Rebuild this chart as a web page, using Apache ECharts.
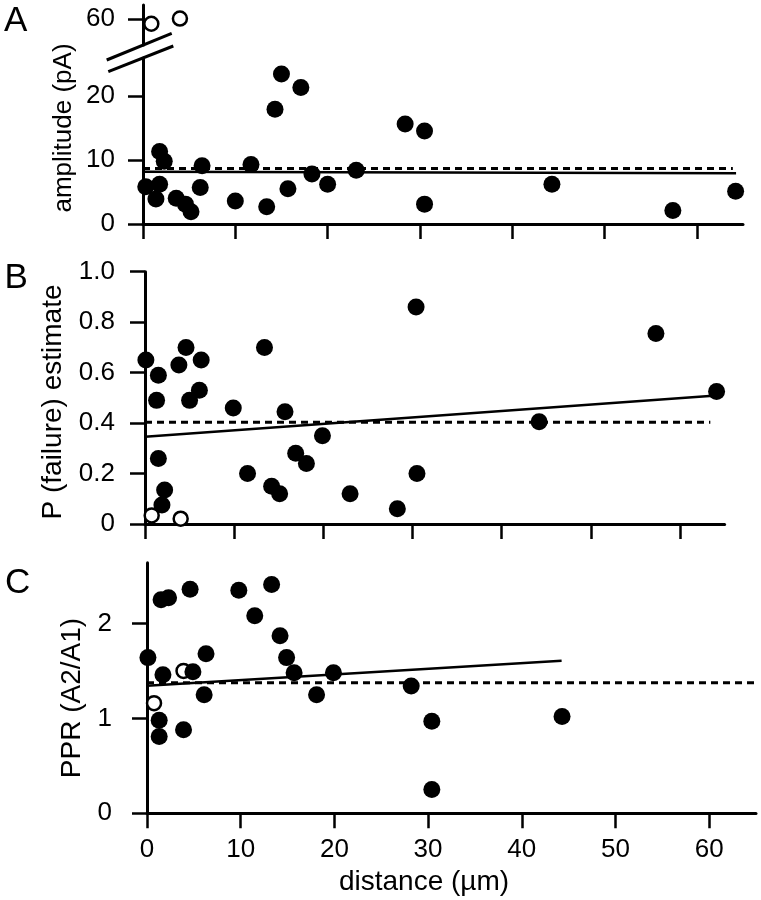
<!DOCTYPE html>
<html>
<head>
<meta charset="utf-8">
<script src="https://cdn.jsdelivr.net/npm/echarts@6/dist/echarts.min.js"></script>
<style>html,body{margin:0;padding:0;background:#fff}#c{width:761px;height:900px}</style>
</head>
<body>
<div id="c"></div>
<script>
// ---------- data ----------
var xTicks = [0, 10, 20, 30, 40, 50, 60];
var ampTicks = [0, 10, 20];
var ampTopTicks = [60];
var pfTicks = [0, 0.2, 0.4, 0.6, 0.8, 1.0];
var pprTicks = [0, 1, 2];

// A: amplitude (pA)
var ampX = [0.3,1.8,1.4,1.8,2.3,3.6,4.6,5.2,6.2,6.4,10.0,11.7,13.4,14.3,15.0,15.7,17.1,18.3,20.0,23.1,28.4,30.5,30.5,44.3,57.4,64.2];
var ampY = [5.8,6.2,3.9,11.3,9.8,4.0,3.1,1.9,5.7,9.1,3.6,9.3,2.7,17.9,23.4,5.5,21.3,7.8,6.2,8.4,15.6,14.5,3.1,6.2,2.1,5.1];
var ampOpenX = [0.9, 4.0];
var ampOpenY = [59.3, 60.1];
var ampFitX = [0, 64.25];
var ampFitY = [8.15, 7.90];
var ampMeanX = [0, 63.9];
var ampMeanY = [8.65, 8.65];

// B: P (failure) estimate
var pfX = [0.1,1.5,1.3,3.8,4.6,6.3,5.0,6.1,9.9,1.5,2.2,1.9,11.5,13.4,14.2,15.1,15.7,16.9,18.1,19.9,23.0,30.4,30.5,28.3,44.2,57.3,64.1];
var pfY = [0.65,0.59,0.49,0.63,0.70,0.65,0.49,0.53,0.46,0.26,0.135,0.075,0.20,0.70,0.15,0.12,0.445,0.28,0.24,0.35,0.12,0.86,0.20,0.06,0.405,0.755,0.525];
var pfOpenX = [0.75, 4.0];
var pfOpenY = [0.034, 0.021];
var pfFitX = [0, 63.7];
var pfFitY = [0.346, 0.508];
var pfMeanX = [0, 63.4];
var pfMeanY = [0.403, 0.403];

// C: PPR (A2/A1)
var pprX = [0.1,1.5,2.3,4.6,9.8,11.5,13.3,14.2,14.9,15.7,19.9,18.1,1.7,4.9,6.3,6.1,1.3,1.3,3.9,28.2,30.4,30.4,44.3];
var pprY = [1.64,2.25,2.27,2.36,2.35,2.08,2.41,1.87,1.64,1.48,1.48,1.25,1.46,1.49,1.68,1.25,0.98,0.81,0.88,1.34,0.97,0.25,1.02];
var pprOpenX = [3.9, 0.75];
var pprOpenY = [1.50, 1.16];
var pprFitX = [0, 44.25];
var pprFitY = [1.343, 1.606];
var pprMeanX = [0, 65];
var pprMeanY = [1.375, 1.375];

// ---------- helpers ----------
function zip(xs, ys) { return xs.map(function (x, i) { return [x, ys[i]]; }); }
var FONT = 'Liberation Sans, Arial, sans-serif';
var LW = 3;
var axisLine = { show: true, onZero: false, lineStyle: { color: '#000', width: LW } };
function tick(vals) { return { show: true, inside: false, length: 15, customValues: vals, lineStyle: { color: '#000', width: 2.5 } }; }
function xAx(idx, max, show) {
  return { type: 'value', gridIndex: idx, min: 0, max: max, show: show,
    axisLine: axisLine, axisTick: tick(xTicks), splitLine: { show: false },
    axisLabel: { show: false } };
}
function yAx(idx, min, max, ticks, margin, fmt) {
  return { type: 'value', gridIndex: idx, min: min, max: max,
    axisLine: axisLine, axisTick: tick(ticks), splitLine: { show: false },
    axisLabel: { show: true, customValues: ticks, margin: margin, color: '#000', fontSize: 26, fontFamily: FONT, formatter: fmt } };
}
function filled(idx, xs, ys, z) {
  return { type: 'scatter', xAxisIndex: idx, yAxisIndex: idx, data: zip(xs, ys), symbol: 'circle', symbolSize: 17,
    itemStyle: { color: '#000', opacity: 1 }, z: z, silent: true };
}
function open(idx, xs, ys, z) {
  return { type: 'scatter', xAxisIndex: idx, yAxisIndex: idx, data: zip(xs, ys), symbol: 'circle', symbolSize: 14,
    itemStyle: { color: '#fff', borderColor: '#000', borderWidth: 2.5, opacity: 1 }, z: z, silent: true };
}
function line(idx, xs, ys, dashed) {
  return { type: 'line', xAxisIndex: idx, yAxisIndex: idx, data: zip(xs, ys), showSymbol: false, symbol: 'none',
    lineStyle: { color: '#000', width: dashed ? 3 : 2.5, type: dashed ? [7, 5] : 'solid' }, z: 2, silent: true, animation: false };
}
function txt(text, x, y, size, rot) {
  return { type: 'text', x: x, y: y, rotation: rot || 0,
    style: { text: text, fill: '#000', font: size + 'px ' + FONT, align: rot ? 'center' : 'left', verticalAlign: 'middle' } };
}

var chart = echarts.init(document.getElementById('c'), null, { renderer: 'canvas' });
chart.setOption({
  animation: false,
  backgroundColor: '#fff',
  grid: [
    { left: 143, top: 5, width: 600, height: 40, outerBoundsMode: 'none' },
    { left: 143, top: 58, width: 600, height: 166, outerBoundsMode: 'none' },
    { left: 145, top: 271.7, width: 579.6, height: 252.3, outerBoundsMode: 'none' },
    { left: 147, top: 562.7, width: 609, height: 250.6, outerBoundsMode: 'none' }
  ],
  xAxis: [
    xAx(0, 65, false),
    xAx(1, 65, true),
    xAx(2, 65, true),
    xAx(3, 65, true)
  ],
  yAxis: [
    yAx(0, 56, 62.2, ampTopTicks, 28),
    yAx(1, 0, 25.9, ampTicks, 28),
    yAx(2, 0, 1.0, pfTicks, 30, function (v) { return v === 0 ? '0' : v.toFixed(1); }),
    yAx(3, 0, 2.64, pprTicks, 35)
  ],
  series: [
    open(0, ampOpenX, ampOpenY, 5),
    line(1, ampMeanX, ampMeanY, true),
    line(1, ampFitX, ampFitY, false),
    filled(1, ampX, ampY, 4),
    line(2, pfMeanX, pfMeanY, true),
    line(2, pfFitX, pfFitY, false),
    filled(2, pfX, pfY, 4),
    open(2, pfOpenX, pfOpenY, 5),
    line(3, pprMeanX, pprMeanY, true),
    line(3, pprFitX, pprFitY, false),
    open(3, pprOpenX, pprOpenY, 3),
    filled(3, pprX, pprY, 4)
  ],
  graphic: [
    { type: 'line', shape: { x1: 106.7, y1: 60, x2: 171.7, y2: 33.3 }, style: { stroke: '#000', lineWidth: 3 } },
    { type: 'line', shape: { x1: 108.3, y1: 71.7, x2: 173.3, y2: 46 }, style: { stroke: '#000', lineWidth: 3 } },
    txt('A', 4, 21, 35),
    txt('B', 4.5, 278, 35),
    txt('C', 5, 583, 35),
    txt('amplitude (pA)', 64, 128, 26, Math.PI / 2),
    txt('P (failure) estimate', 53, 402, 28, Math.PI / 2),
    txt('PPR (A2/A1)', 72, 698, 28, Math.PI / 2),
    { type: 'text', x: 424, y: 882, style: { text: 'distance (µm)', fill: '#000', font: '28px ' + FONT, align: 'center', verticalAlign: 'middle' } }
  ]
});
// x tick labels for panel C
chart.setOption({
  xAxis: [{}, {}, {}, { axisLabel: { show: true, customValues: xTicks, margin: 24, color: '#000', fontSize: 26, fontFamily: FONT } }]
});
</script>
</body>
</html>
